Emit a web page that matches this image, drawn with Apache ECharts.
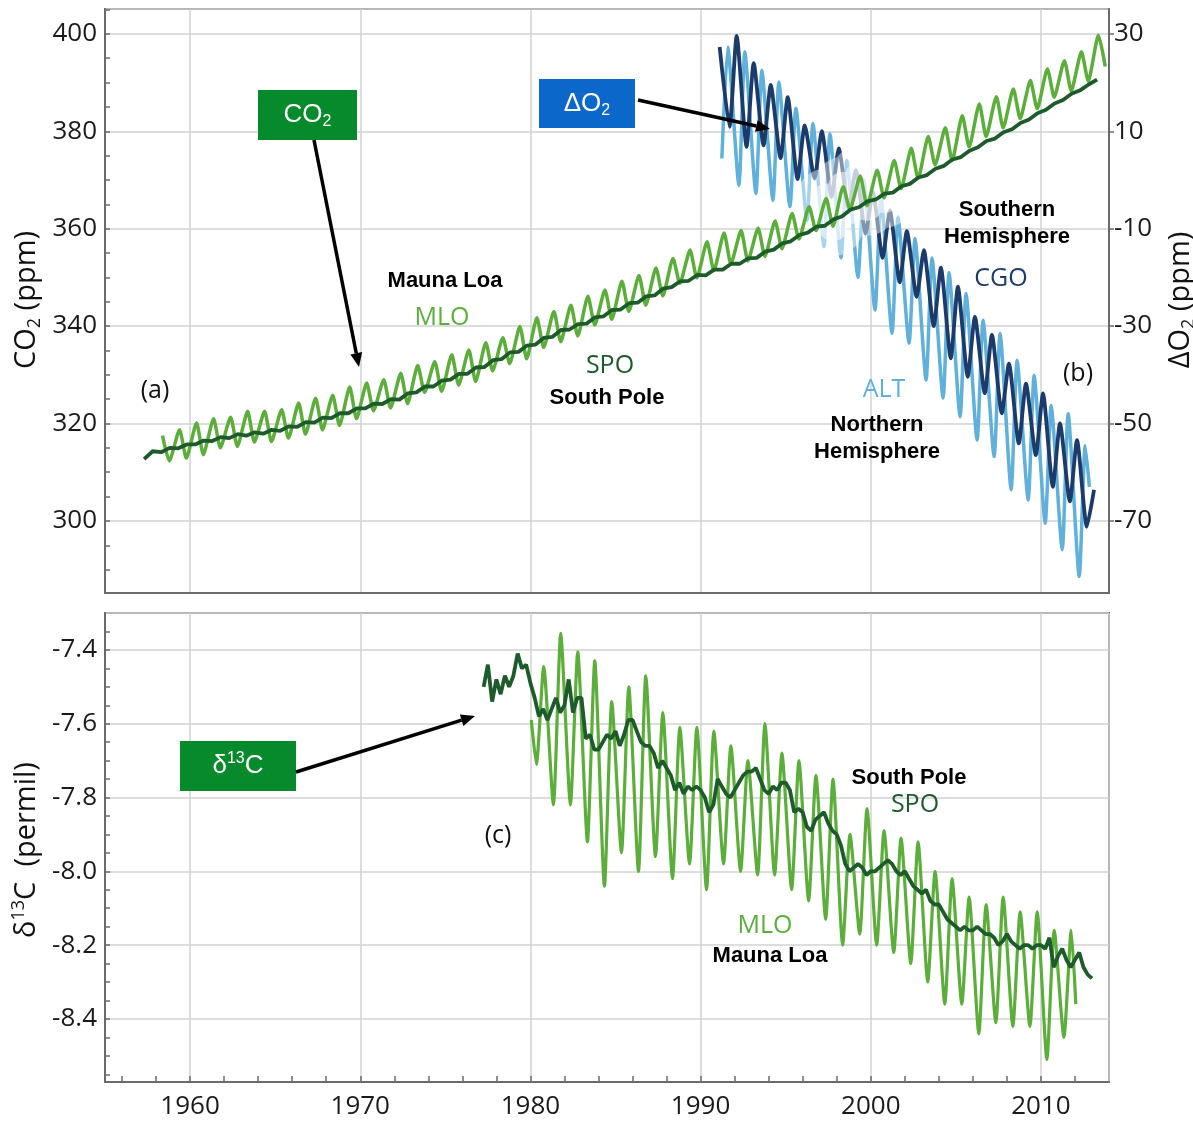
<!DOCTYPE html>
<html>
<head>
<meta charset="utf-8">
<script src="https://cdn.jsdelivr.net/npm/echarts@6/dist/echarts.min.js"></script>
<style>
  html, body { margin: 0; padding: 0; background: #fff; }
  #main { width: 1193px; height: 1122px; }
</style>
</head>
<body>
<div id="main"></div>
<script>
// ---------- data ----------
// CO2 Mauna Loa, seasonal max (May) and min (Oct), 1958..2013
var co2StartYear = 1958;
var mloCo2Peak = [317.5, 318.7, 320.1, 321.0, 321.3, 322.5, 322.5, 322.8, 324.2, 325.2, 325.8, 327.5, 328.3, 329.0, 330.3, 331.9, 332.7, 334.1, 335.1, 336.6, 337.6, 339.9, 341.7, 343.0, 344.3, 346.1, 347.4, 349.2, 350.4, 351.9, 353.9, 355.6, 357.3, 359.1, 359.6, 360.1, 361.6, 363.1, 364.5, 366.2, 368.6, 370.8, 372.0, 374.0, 376.5, 378.9, 380.7, 383.2, 385.6, 387.1, 388.7, 390.4, 392.8, 394.5, 396.3, 399.7];
var mloCo2Trough = [312.3, 312.9, 313.6, 315.0, 315.3, 316.2, 316.3, 317.0, 317.8, 318.7, 319.6, 321.0, 322.6, 323.2, 324.1, 326.4, 326.6, 327.9, 328.6, 330.8, 332.3, 333.3, 335.6, 336.8, 338.0, 340.2, 341.4, 343.0, 344.3, 346.2, 348.8, 349.9, 351.4, 352.8, 353.4, 354.3, 355.9, 357.9, 359.6, 360.5, 364.0, 364.7, 366.3, 368.2, 370.3, 373.1, 374.0, 376.8, 378.9, 380.7, 382.6, 384.6, 387.0, 388.3, 390.3, 393.3];

// CO2 South Pole, small seasonal low / high, 1957..
var spoStartYear = 1957;
var spoCo2Low = [312.7, 314.1, 314.9, 315.7, 316.4, 317.0, 317.5, 317.9, 318.5, 319.3, 320.2, 321.1, 322.1, 323.1, 324.0, 324.9, 326.4, 327.6, 329.0, 330.2, 331.6, 333.2, 334.7, 336.2, 337.8, 339.3, 340.5, 342.0, 343.4, 344.8, 346.3, 348.0, 349.3, 350.4, 351.6, 352.8, 354.0, 355.7, 357.4, 359.2, 360.6, 362.5, 364.4, 366.0, 367.4, 369.2, 371.0, 372.9, 374.7, 376.7, 378.5, 380.4, 382.4, 384.4, 386.4, 388.4, 390.6];
var spoCo2High = [314.3, 315.0, 315.7, 316.5, 317.2, 317.8, 318.2, 318.7, 319.4, 320.3, 321.2, 322.1, 323.1, 324.1, 325.0, 326.2, 327.6, 328.8, 330.2, 331.5, 333.0, 334.6, 336.0, 337.6, 339.2, 340.4, 341.8, 343.3, 344.7, 346.1, 347.7, 349.2, 350.5, 351.6, 352.8, 353.9, 355.3, 357.0, 358.7, 360.4, 361.9, 363.9, 365.6, 367.2, 368.7, 370.5, 372.3, 374.2, 376.0, 378.0, 379.8, 381.7, 383.7, 385.7, 387.7, 389.6];

// Delta O2 (right axis), 1991..2012
var o2StartYear = 1991;
var altPeak = [27.3, 26.3, 22.5, 20.1, 14.7, 11.6, 9.5, 4.0, 0.0, -3.5, -7.6, -12.0, -16.0, -19.0, -23.3, -28.8, -31.5, -37.0, -40.1, -46.3, -48.0, -54.5];
var altTrough = [4.4, -1.1, -2.8, -4.2, -5.5, -8.3, -13.7, -16.0, -20.0, -26.7, -31.5, -33.5, -41.1, -44.8, -48.6, -53.4, -56.8, -63.6, -65.7, -70.5, -75.9, -81.4];
var altLast = [2012.85, -63.0];
var cgoPeak = [27.3, 29.6, 24.0, 19.5, 17.0, 11.2, 10.0, 6.5, 2.0, -2.5, -6.2, -10.5, -14.4, -18.0, -21.9, -28.1, -31.8, -37.7, -41.8, -43.8, -50.0, -53.4, -63.6];
var cgoTrough = [10.9, 6.8, 7.1, 4.5, 0.2, 0.3, -3.5, -6.0, -11.0, -16.0, -21.0, -24.0, -30.0, -36.6, -40.4, -43.8, -47.9, -54.1, -56.5, -63.0, -66.0, -71.2];

// d13C Mauna Loa, seasonal max (Oct) and min (May), 1980..2011
var c13StartYear = 1980;
var mloC13First = [1980.05, -7.59];
var mloC13Peak = [-7.445, -7.355, -7.405, -7.43, -7.54, -7.50, -7.47, -7.57, -7.61, -7.61, -7.62, -7.66, -7.70, -7.60, -7.68, -7.70, -7.74, -7.75, -7.90, -7.83, -7.89, -7.91, -7.92, -8.00, -8.02, -8.07, -8.09, -8.07, -8.11, -8.11, -8.16, -8.16];
var mloC13Trough = [-7.71, -7.82, -7.82, -7.92, -8.04, -7.95, -8.00, -7.96, -8.02, -7.98, -8.05, -7.98, -8.00, -8.01, -8.01, -8.05, -8.08, -8.13, -8.20, -8.17, -8.20, -8.22, -8.25, -8.30, -8.36, -8.36, -8.44, -8.41, -8.42, -8.42, -8.51, -8.45];
var mloC13Last = [2012.05, -8.36];

// d13C South Pole, quarterly from 1977.25
var spoC13Start = 1977.25;
var spoC13 = [
  -7.50, -7.44, -7.54,
  -7.48, -7.52, -7.47, -7.50,
  -7.47, -7.41, -7.45, -7.44,
  -7.49, -7.53, -7.58, -7.56,
  -7.59, -7.56, -7.53, -7.57,
  -7.55, -7.48, -7.57, -7.53,
  -7.53, -7.64, -7.63, -7.67,
  -7.67, -7.65, -7.63, -7.64,
  -7.62, -7.66, -7.63, -7.59,
  -7.59, -7.62, -7.65, -7.66,
  -7.66, -7.68, -7.72, -7.70,
  -7.72, -7.74, -7.78, -7.76,
  -7.79, -7.77, -7.78, -7.77,
  -7.78, -7.80, -7.84, -7.82,
  -7.75, -7.77, -7.79, -7.80,
  -7.78, -7.76, -7.74, -7.73,
  -7.73, -7.72, -7.75, -7.78,
  -7.79, -7.77, -7.78, -7.76,
  -7.76, -7.78, -7.84, -7.83,
  -7.84, -7.88, -7.89, -7.86,
  -7.85, -7.84, -7.87, -7.89,
  -7.90, -7.93, -7.98, -8.00,
  -7.99, -7.98, -7.99, -8.01,
  -8.00, -8.00, -7.99, -7.98,
  -7.97, -7.98, -8.00, -8.01,
  -8.00, -8.02, -8.04, -8.05,
  -8.06, -8.05, -8.08, -8.09,
  -8.09, -8.11, -8.13, -8.14,
  -8.15, -8.16, -8.15, -8.16,
  -8.16, -8.15, -8.16, -8.17,
  -8.17, -8.18, -8.20, -8.19,
  -8.17, -8.19, -8.20, -8.21,
  -8.20, -8.20, -8.21, -8.20,
  -8.20, -8.21, -8.18, -8.26,
  -8.23, -8.21, -8.24, -8.26,
  -8.24, -8.22, -8.26, -8.28,
  -8.29
];

// axis ticks / labels
var yearTicks = [1956, 1958, 1960, 1962, 1964, 1966, 1968, 1970, 1972, 1974, 1976, 1978, 1980, 1982, 1984, 1986, 1988, 1990, 1992, 1994, 1996, 1998, 2000, 2002, 2004, 2006, 2008, 2010, 2012];
var co2Ticks = [290, 295, 300, 305, 310, 315, 320, 325, 330, 335, 340, 345, 350, 355, 360, 365, 370, 375, 380, 385, 390, 395, 400, 405];
var o2Labels = [-70, -50, -30, -10, 10, 30];
var c13Ticks = [-8.55, -8.5, -8.45, -8.4, -8.35, -8.3, -8.25, -8.2, -8.15, -8.1, -8.05, -8.0, -7.95, -7.9, -7.85, -7.8, -7.75, -7.7, -7.65, -7.6, -7.55, -7.5, -7.45, -7.4, -7.35];
// years where the O2 curves are washed out behind the CO2 curves
var fadeYears = [1996.8, 2001.2];

// ---------- build series points ----------
function zigzag(start, peaks, peakOff, troughs, troughOff) {
  var pts = [];
  peaks.forEach(function (v, i) { pts.push([start + i + peakOff, v]); });
  troughs.forEach(function (v, i) { pts.push([start + i + troughOff, v]); });
  pts.sort(function (a, b) { return a[0] - b[0]; });
  return pts;
}

var mloCo2 = zigzag(co2StartYear, mloCo2Peak, 0.38, mloCo2Trough, 0.78);
var spoCo2 = zigzag(spoStartYear, spoCo2Low, 0.3, spoCo2High, 0.8);
var alt = zigzag(o2StartYear, altPeak, 0.6, altTrough, 0.25).concat([altLast]);
var cgo = zigzag(o2StartYear, cgoPeak, 0.12, cgoTrough, 0.7);
var mloC13 = [mloC13First].concat(zigzag(c13StartYear, mloC13Peak, 0.78, mloC13Trough, 0.35), [mloC13Last]);
var spoC13pts = spoC13.map(function (v, i) { return [spoC13Start + i * 0.25, v]; });
var haloPts = mloCo2.filter(function (p) { return p[0] >= fadeYears[0] && p[0] <= fadeYears[1]; });

// ---------- styles ----------
var FONT = "'Open Sans', 'DejaVu Sans', sans-serif";
var BOLD = "'Liberation Sans', Arial, sans-serif";
var axisColor = '#6b6b6b';
var gridColor = '#d2d2d2';
var lightGreen = '#5cae3a';
var darkGreen = '#1e5b2b';
var lightBlue = '#5fb0da';
var navy = '#1c3b6b';

function text(x, y, str, opts) {
  return {
    type: 'text', x: x, y: y, z: 100,
    style: Object.assign({
      text: str, fontFamily: FONT, fontSize: 25, fill: '#111',
      align: 'center', verticalAlign: 'middle', textAlign: 'center', textVerticalAlign: 'middle'
    }, opts || {})
  };
}

function bold(x, y, str) {
  return text(x, y, str, { fontFamily: BOLD, fontWeight: 'bold', fontSize: 22, fill: '#000' });
}

function arrow(x1, y1, x2, y2) {
  var ang = Math.atan2(y2 - y1, x2 - x1);
  var L = 14, W = 6;
  var bx = x2 - L * Math.cos(ang), by = y2 - L * Math.sin(ang);
  var px = -Math.sin(ang) * W, py = Math.cos(ang) * W;
  return [
    { type: 'line', z: 100, shape: { x1: x1, y1: y1, x2: bx, y2: by }, style: { stroke: '#000', lineWidth: 3.5 } },
    { type: 'polygon', z: 100, shape: { points: [[x2, y2], [bx + px, by + py], [bx - px, by - py]] }, style: { fill: '#000' } }
  ];
}

function box(x, y, w, h, color, rich, str) {
  return [
    { type: 'rect', z: 99, shape: { x: x, y: y, width: w, height: h }, style: { fill: color } },
    { type: 'text', z: 100, x: x + w / 2, y: y + h / 2,
      style: { text: str, rich: rich, align: 'center', verticalAlign: 'middle', textAlign: 'center', textVerticalAlign: 'middle' } }
  ];
}

function title(x, y, str) {
  return { type: 'text', z: 100, x: x, y: y, rotation: Math.PI / 2,
    style: { text: str, rich: titleRich, align: 'center', verticalAlign: 'middle', textAlign: 'center', textVerticalAlign: 'middle' } };
}

var whiteRich = {
  a: { fontFamily: BOLD, fontSize: 26, fill: '#fff', color: '#fff', lineHeight: 30 },
  s: { fontFamily: BOLD, fontSize: 16, fill: '#fff', color: '#fff', lineHeight: 14, verticalAlign: 'bottom' },
  p: { fontFamily: BOLD, fontSize: 16, fill: '#fff', color: '#fff', lineHeight: 14, verticalAlign: 'top' }
};
var titleRich = {
  a: { fontFamily: FONT, fontSize: 29, fill: '#111', color: '#111', lineHeight: 34 },
  s: { fontFamily: FONT, fontSize: 18, fill: '#111', color: '#111', lineHeight: 16, verticalAlign: 'bottom' },
  p: { fontFamily: FONT, fontSize: 18, fill: '#111', color: '#111', lineHeight: 16, verticalAlign: 'top' }
};

var elements = []
  .concat(box(258, 90, 99, 50, '#078a2c', whiteRich, '{a|CO}{s|2}'))
  .concat(box(539, 79, 96, 49, '#0b67c9', whiteRich, '{a|\u0394O}{s|2}'))
  .concat(box(180, 741, 116, 50, '#078a2c', whiteRich, '{a|\u03b4}{p|13}{a|C}'))
  .concat(arrow(314, 140, 359, 367))
  .concat(arrow(638, 100, 770, 129))
  .concat(arrow(296, 772, 475, 716))
  .concat([
    bold(445, 281, 'Mauna Loa'),
    text(442, 318, 'MLO', { fill: lightGreen }),
    text(610, 366, 'SPO', { fill: darkGreen }),
    bold(607, 398, 'South Pole'),
    text(155, 391, '(a)'),
    bold(1007, 210, 'Southern'),
    bold(1007, 237, 'Hemisphere'),
    text(1001, 279, 'CGO', { fill: navy }),
    text(1078, 374, '(b)'),
    text(884, 390, 'ALT', { fill: lightBlue }),
    bold(877, 425, 'Northern'),
    bold(877, 452, 'Hemisphere'),
    text(498, 836, '(c)'),
    bold(909, 778, 'South Pole'),
    text(915, 805, 'SPO', { fill: darkGreen }),
    text(765, 926, 'MLO', { fill: lightGreen }),
    bold(770, 956, 'Mauna Loa'),
    title(27, 300, '{a|CO}{s|2}{a| (ppm)}'),
    title(1181, 300, '{a|\u0394O}{s|2}{a| (ppm)}'),
    title(27, 850, '{a|\u03b4}{p|13}{a|C  (permil)}')
  ]);

var axisLine = { show: true, onZero: false, lineStyle: { color: axisColor, width: 2 } };
var noLine = { show: false, onZero: false };
var splitLine = { show: true, lineStyle: { color: gridColor, width: 1.5 } };
var tickLabel = { fontFamily: FONT, fontSize: 26, color: '#1a1a1a' };
var tickStyle = { color: axisColor, width: 1.5 };

var chart = echarts.init(document.getElementById('main'));
chart.setOption({
  animation: false,
  backgroundColor: '#fff',
  grid: [
    { left: 105, right: 84, top: 9, height: 584, show: true, borderColor: axisColor, borderWidth: 2 },
    { left: 105, right: 84, top: 613, height: 469, show: true, borderColor: axisColor, borderWidth: 2 }
  ],
  xAxis: [
    { gridIndex: 0, type: 'value', min: 1955, max: 2014, axisLine: axisLine,
      axisTick: { show: false }, axisLabel: { show: false }, splitLine: splitLine },
    { gridIndex: 1, type: 'value', min: 1955, max: 2014, axisLine: axisLine,
      axisTick: { show: false },
      axisLabel: Object.assign({ margin: 12, showMinLabel: false, showMaxLabel: false,
        formatter: function (v) { return v % 10 === 0 ? String(v) : ''; } }, tickLabel),
      splitLine: splitLine },
    { gridIndex: 1, type: 'value', position: 'bottom', min: 1955, max: 2014,
      axisLine: noLine, axisLabel: { show: false }, splitLine: { show: false },
      axisTick: { show: true, inside: true, length: 6, customValues: yearTicks, lineStyle: tickStyle } }
  ],
  yAxis: [
    { gridIndex: 0, type: 'value', position: 'left', min: 285.2, max: 405.1, axisLine: axisLine,
      axisTick: { show: false },
      axisLabel: Object.assign({ margin: 8, showMinLabel: false, showMaxLabel: false }, tickLabel),
      splitLine: splitLine },
    { gridIndex: 0, type: 'value', position: 'left', min: 285.2, max: 405.1,
      axisLine: noLine, axisLabel: { show: false }, splitLine: { show: false },
      axisTick: { show: true, inside: true, length: 5, customValues: co2Ticks, lineStyle: tickStyle } },
    { gridIndex: 0, type: 'value', position: 'right', min: -84.8, max: 35.1, axisLine: axisLine,
      axisTick: { show: true, inside: false, length: 5, customValues: o2Labels, lineStyle: tickStyle },
      axisLabel: Object.assign({ margin: 5, customValues: o2Labels }, tickLabel),
      splitLine: { show: false } },
    { gridIndex: 1, type: 'value', position: 'left', min: -8.571, max: -7.30, splitNumber: 6, axisLine: axisLine,
      axisTick: { show: false },
      axisLabel: Object.assign({ margin: 8, showMinLabel: false, showMaxLabel: false,
        formatter: function (v) { return v.toFixed(1); } }, tickLabel),
      splitLine: splitLine },
    { gridIndex: 1, type: 'value', position: 'left', min: -8.571, max: -7.30,
      axisLine: noLine, axisLabel: { show: false }, splitLine: { show: false },
      axisTick: { show: true, inside: true, length: 5, customValues: c13Ticks, lineStyle: tickStyle } }
  ],
  series: [
    { name: 'ALT', type: 'line', xAxisIndex: 0, yAxisIndex: 2, data: alt, showSymbol: false, smooth: 0.2,
      lineStyle: { color: lightBlue, width: 3.5 } },
    { name: 'CGO', type: 'line', xAxisIndex: 0, yAxisIndex: 2, data: cgo, showSymbol: false, smooth: 0.2,
      lineStyle: { color: navy, width: 3.8 } },
    { name: 'halo wide', type: 'line', xAxisIndex: 0, yAxisIndex: 0, data: haloPts, showSymbol: false, silent: true,
      lineStyle: { color: 'rgba(255,255,255,0.45)', width: 60, cap: 'round', join: 'round' } },
    { name: 'halo', type: 'line', xAxisIndex: 0, yAxisIndex: 0, data: haloPts, showSymbol: false, silent: true,
      lineStyle: { color: 'rgba(255,255,255,0.55)', width: 30, cap: 'round', join: 'round' } },
    { name: 'MLO CO2', type: 'line', xAxisIndex: 0, yAxisIndex: 0, data: mloCo2, showSymbol: false, smooth: 0.2,
      lineStyle: { color: lightGreen, width: 3.5 } },
    { name: 'SPO CO2', type: 'line', xAxisIndex: 0, yAxisIndex: 0, data: spoCo2, showSymbol: false,
      lineStyle: { color: darkGreen, width: 3.8 } },
    { name: 'MLO d13C', type: 'line', xAxisIndex: 1, yAxisIndex: 3, data: mloC13, showSymbol: false, smooth: 0.2,
      lineStyle: { color: lightGreen, width: 3.2 } },
    { name: 'SPO d13C', type: 'line', xAxisIndex: 1, yAxisIndex: 3, data: spoC13pts, showSymbol: false,
      lineStyle: { color: darkGreen, width: 3.8 } }
  ],
  graphic: { elements: elements }
});
</script>
</body>
</html>
